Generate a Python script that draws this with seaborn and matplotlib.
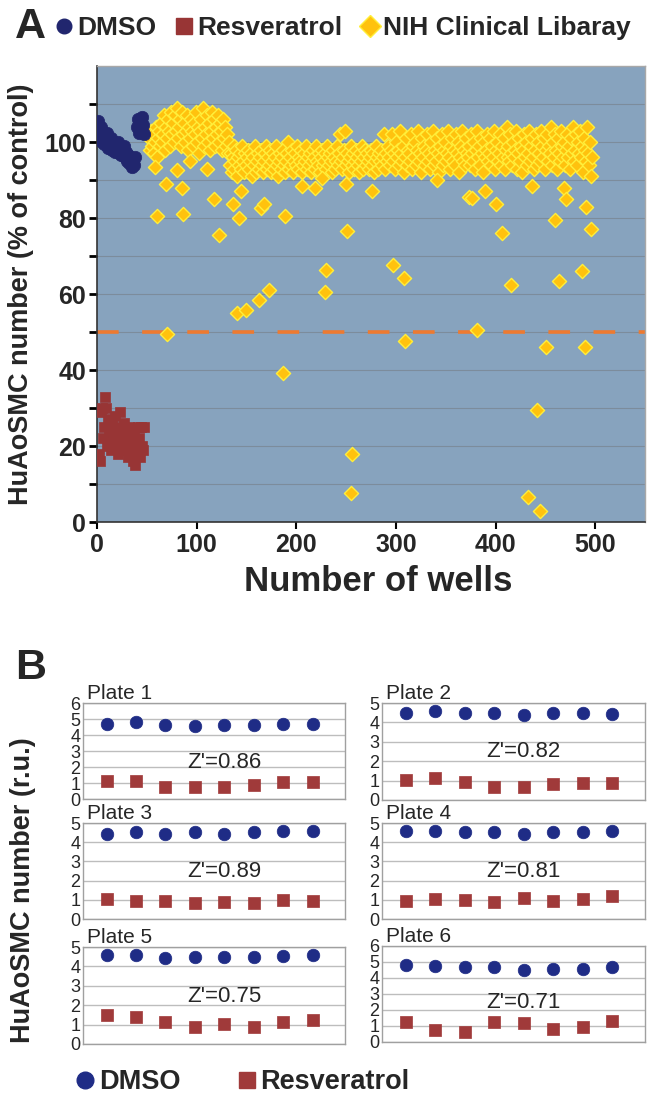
import matplotlib
matplotlib.use('Agg')
import matplotlib.pyplot as plt
import seaborn as sns
import numpy as np
import pandas as pd
from matplotlib.lines import Line2D

sns.set_style('white')
plt.rcParams['font.family'] = ['Liberation Sans', 'DejaVu Sans']

# ---------------- Panel A data ----------------
dmso_wells = list(range(1, 39)) + list(range(40, 48))
dmso_vals = [105.5, 103, 101.5, 104, 100, 102, 99.5, 101, 100, 102.5,
             98.5, 100.5, 99, 101, 98, 100, 99, 97.5, 99.5, 98,
             100, 97, 98.5, 96.5, 98, 97, 99, 96, 97.5, 95,
             96.5, 94.5, 96, 95, 93.5, 95.5, 94, 96,
             104, 106, 102.5, 105, 103, 106.5, 104.5, 102]

resv_wells = list(range(2, 48))
resv_vals = [18, 16, 29, 30, 22, 25, 33, 30, 20, 27,
             24, 21, 19, 26, 23, 20, 28, 24, 22, 18,
             25, 29, 21, 23, 19, 26, 22, 20, 24, 17,
             25, 21, 23, 19, 16, 24, 15, 20, 18, 25,
             22, 17, 25, 20, 19, 25]

# compound library, dense band (consecutive wells)
lib_start_1 = 52
lib_band_1 = [101, 98, 103, 99, 102, 97, 100, 104, 96, 101,
              103, 99, 105, 100, 102, 107, 98, 104, 101, 106,
              103, 99, 108, 102, 105, 100, 107, 103, 109, 101,
              104, 106, 99, 108, 102, 105, 100, 103, 107, 98,
              104, 101, 106, 103, 99, 105, 102, 108, 100, 104,
              97, 103, 106, 101, 109, 99, 104, 102, 107, 100,
              105, 98, 103, 108, 101, 106, 99, 104, 102, 107,
              100, 105, 103, 98, 106, 101, 104, 99, 102, 97, 100]

lib_start_2 = 133
lib_band_2 = [94, 97, 92, 96, 99, 93, 95, 98, 91, 96, 94, 97, 93, 99, 95, 92, 97, 94, 96, 98,
              93, 95, 97, 91, 96, 94, 99, 92, 95, 97, 93, 96, 98, 94, 92, 95, 97, 99, 93, 96,
              94, 98, 92, 95, 97, 93, 96, 99, 94, 91, 95, 97, 93, 96, 98, 94, 92, 95, 97, 100,
              93, 96, 94, 98, 92, 95, 97, 94, 99, 93, 96, 95, 98, 92, 94, 97, 95, 99, 93, 96,
              94, 97, 92, 95, 98, 96, 93, 99, 95, 94, 97, 92, 96, 98, 94, 95, 97, 93, 99, 96,
              94, 97, 95, 92, 98, 96, 93, 95, 99, 94, 97, 102, 95, 93, 96, 98, 103, 94, 97, 95,
              92, 96, 99, 94, 97, 93, 95, 98, 96, 94, 92, 97, 95, 99, 93, 96, 98, 94, 97, 95,
              93, 96, 98, 94, 97, 92, 95, 99, 96, 93, 97, 95, 98, 94, 96, 102, 93, 97, 95, 99,
              96, 94, 98, 102, 95, 97, 93, 100, 96, 98, 94, 103, 97, 95, 99, 92, 96, 101, 94, 98,
              97, 95, 102, 93, 99, 96, 100, 94, 98, 103, 95, 97, 92, 101, 96, 99, 94, 98, 102, 95,
              97, 93, 100, 96, 103, 94, 98, 95, 101, 97, 92, 99, 96, 102, 94, 98, 100, 95, 97, 103,
              96, 93, 99, 101, 95, 98, 94, 102, 97, 100, 92, 96, 99, 103, 95, 98, 94, 101, 97, 96,
              99, 94, 102, 97, 95, 100, 93, 98, 103, 96, 99, 94, 101, 97, 92, 100, 96, 98, 102, 95,
              97, 101, 94, 99, 96, 103, 93, 98, 100, 95, 97, 102, 94, 99, 96, 101, 93, 98, 104, 96,
              99, 95, 102, 97, 94, 100, 96, 98, 103, 93, 97, 101, 95, 99, 92, 98, 102, 96, 100, 94,
              97, 103, 95, 99, 101, 96, 93, 98, 102, 94, 100, 97, 95, 103, 99, 96, 101, 93, 98, 102,
              95, 99, 97, 104, 94, 100, 96, 102, 98, 93, 101, 97, 95, 103, 99, 96, 100, 94, 98, 102,
              96, 99, 93, 101, 97, 104, 95, 98, 102, 94, 100, 97, 103, 96, 99, 92, 101, 98, 95, 104,
              97, 94, 100, 91, 96]

# library hits / outliers
lib_out_wells = [58, 60, 69, 70, 80, 85, 86, 93, 110, 117, 122, 136, 141, 143, 145,
                 150, 163, 165, 168, 173, 187, 189, 206, 219, 226, 229, 230, 250, 251,
                 255, 256, 276, 297, 308, 309, 341, 373, 376, 381, 389, 400, 406, 416,
                 433, 437, 442, 445, 451, 460, 464, 469, 471, 487, 490, 491, 496]
lib_out_vals = [93.5, 80.5, 89, 49.6, 92.6, 88, 81, 95, 93, 85, 75.5, 83.6, 55, 80, 87,
                55.8, 58.4, 82.6, 83.6, 61, 39.2, 80.5, 88.4, 88, 90.5, 60.5, 66.3, 89, 76.6,
                7.6, 18, 87, 67.6, 64.2, 47.6, 90, 85.5, 85.3, 50.5, 87, 83.7, 76, 62.4,
                6.5, 88.4, 29.5, 3, 46, 79.5, 63.5, 88, 85, 66, 46, 83, 77]

# ---------------- Panel B data ----------------
plate_names = ['Plate 1', 'Plate 2', 'Plate 3', 'Plate 4', 'Plate 5', 'Plate 6']
plate_z = ["Z'=0.86", "Z'=0.82", "Z'=0.89", "Z'=0.81", "Z'=0.75", "Z'=0.71"]
plate_ymax = [6, 5, 5, 5, 5, 6]
plate_pos = [1, 2, 3, 4, 5, 6, 7, 8]
plate_dmso = [
    [4.66, 4.81, 4.64, 4.54, 4.64, 4.64, 4.70, 4.70],
    [4.48, 4.57, 4.48, 4.48, 4.36, 4.48, 4.48, 4.43],
    [4.43, 4.51, 4.43, 4.51, 4.43, 4.51, 4.57, 4.57],
    [4.60, 4.57, 4.51, 4.51, 4.44, 4.51, 4.51, 4.57],
    [4.61, 4.61, 4.44, 4.49, 4.49, 4.49, 4.56, 4.61],
    [4.84, 4.74, 4.67, 4.67, 4.53, 4.59, 4.59, 4.67],
]
plate_resv = [
    [1.11, 1.15, 0.73, 0.77, 0.73, 0.88, 1.09, 1.05],
    [1.03, 1.12, 0.95, 0.69, 0.69, 0.83, 0.90, 0.90],
    [1.06, 0.92, 0.92, 0.83, 0.89, 0.83, 1.01, 0.92],
    [0.92, 1.04, 1.01, 0.87, 1.09, 0.92, 1.06, 1.22],
    [1.48, 1.37, 1.14, 0.90, 1.02, 0.90, 1.11, 1.25],
    [1.26, 0.78, 0.63, 1.26, 1.16, 0.84, 0.91, 1.31],
]

c_dmso = '#21266E'
c_resv = '#983535'
c_lib = '#FFC20E'
c_lib_edge = '#FFEE3A'
c_dmso_b = '#1F2C86'
c_resv_b = '#A03A3A'

W, H = 649, 1101


def box(l, t, r, b):
    return [l / W, 1 - b / H, (r - l) / W, (b - t) / H]


fig = plt.figure(figsize=(6.49, 11.01), dpi=100)

# ---------------- Panel A ----------------
axA = fig.add_axes(box(97, 66, 645, 522))
axA.set_facecolor('#87A3BE')

lib_df = pd.DataFrame({
    'well': list(range(lib_start_1, lib_start_1 + len(lib_band_1)))
            + list(range(lib_start_2, lib_start_2 + len(lib_band_2))) + lib_out_wells,
    'value': lib_band_1 + lib_band_2 + lib_out_vals,
})
dmso_df = pd.DataFrame({'well': dmso_wells, 'value': dmso_vals})
resv_df = pd.DataFrame({'well': resv_wells, 'value': resv_vals})

sns.scatterplot(data=lib_df, x='well', y='value', marker='D', s=52, color=c_lib,
                edgecolor=c_lib_edge, linewidth=1.0, ax=axA, zorder=3)
sns.scatterplot(data=dmso_df, x='well', y='value', marker='o', s=80, color=c_dmso,
                edgecolor=c_dmso, linewidth=0.5, ax=axA, zorder=4)
sns.scatterplot(data=resv_df, x='well', y='value', marker='s', s=60, color=c_resv,
                edgecolor=c_resv, linewidth=0.5, ax=axA, zorder=4)

axA.axhline(50, color='#EE7A30', lw=2.6, dashes=(6, 6.5), zorder=2)

axA.set_xlim(0, 550)
axA.set_ylim(0, 120)
axA.set_yticks(np.arange(0, 111, 10))
axA.set_yticklabels([str(v) if v % 20 == 0 else '' for v in range(0, 111, 10)],
                    fontsize=18, fontweight='bold')
axA.set_xticks([0, 100, 200, 300, 400, 500])
axA.set_xticklabels(['0', '100', '200', '300', '400', '500'], fontsize=18, fontweight='bold')
axA.yaxis.grid(True, color='#7C8C9C', lw=0.8)
axA.xaxis.grid(False)
axA.set_axisbelow(True)
axA.tick_params(axis='y', direction='out', length=6, width=2, color='black', pad=2, left=True)
axA.tick_params(axis='x', direction='out', length=5, width=1.5, color='black', pad=3, bottom=True)
for side in ['top', 'right']:
    axA.spines[side].set_color('#A8A8A8')
    axA.spines[side].set_linewidth(1)
for side in ['left', 'bottom']:
    axA.spines[side].set_color('#333333')
    axA.spines[side].set_linewidth(1.2)

axA.set_xlabel('Number of wells', fontsize=25, fontweight='bold')
axA.xaxis.set_label_coords(0.513, -0.094)
axA.set_ylabel('HuAoSMC number (% of control)', fontsize=19.5, fontweight='bold')
axA.yaxis.set_label_coords(-0.115, 0.5)

fig.text(15 / W, 1 - 27 / H, 'A', fontsize=31, fontweight='bold', va='center', ha='left')

legA = [
    Line2D([], [], marker='o', ls='none', color=c_dmso, markersize=10.5, label='DMSO'),
    Line2D([], [], marker='s', ls='none', color=c_resv, markersize=12, label='Resveratrol'),
    Line2D([], [], marker='D', ls='none', color=c_lib, markeredgecolor=c_lib_edge,
           markersize=11, label='NIH Clinical Libaray'),
]
fig.legend(handles=legA, loc='center left', bbox_to_anchor=(55 / W, 1 - 28 / H), ncol=3,
           frameon=False, handlelength=0.7, handletextpad=0.15, columnspacing=0.7,
           borderaxespad=0, borderpad=0, prop={'weight': 'bold', 'size': 19})

# ---------------- Panel B ----------------
fig.text(15 / W, 1 - 668 / H, 'B', fontsize=31, fontweight='bold', va='center', ha='left')

plate_boxes = [(83, 703, 345, 799), (382, 703, 645, 800),
               (83, 823, 345, 919), (382, 823, 645, 919),
               (83, 947, 345, 1044), (382, 946, 645, 1042)]
z_y = [2.3, 2.5, 2.48, 2.48, 2.47, 2.46]

for i, name in enumerate(plate_names):
    ax = fig.add_axes(box(*plate_boxes[i]))
    ax.set_facecolor('white')
    pdf = pd.DataFrame({'pos': plate_pos, 'dmso': plate_dmso[i], 'resv': plate_resv[i]})
    sns.scatterplot(data=pdf, x='pos', y='dmso', marker='o', s=82, color=c_dmso_b,
                    edgecolor=c_dmso_b, linewidth=0.5, ax=ax, zorder=3)
    sns.scatterplot(data=pdf, x='pos', y='resv', marker='s', s=74, color=c_resv_b,
                    edgecolor=c_resv_b, linewidth=0.5, ax=ax, zorder=3)
    ax.set_xlim(0.2, 9.1)
    ax.set_ylim(0, plate_ymax[i])
    ax.set_yticks(range(0, plate_ymax[i] + 1))
    ax.set_yticklabels([str(v) for v in range(0, plate_ymax[i] + 1)], fontsize=13)
    ax.set_xticks([])
    ax.yaxis.grid(True, color='#BDBDBD', lw=1)
    ax.set_axisbelow(True)
    ax.tick_params(axis='y', length=0, pad=2)
    for side in ax.spines:
        ax.spines[side].set_color('#A0A0A0')
        ax.spines[side].set_linewidth(1)
    ax.set_xlabel('')
    ax.set_ylabel('')
    ax.set_title(name, loc='left', fontsize=15, pad=1, x=0.015)
    ax.text(5.0, z_y[i], plate_z[i], fontsize=16, ha='center', va='center')

fig.text(23 / W, 1 - 890 / H, 'HuAoSMC number (r.u.)', rotation=90, fontsize=19.5,
         fontweight='bold', ha='center', va='center')

legB = [
    Line2D([], [], marker='o', ls='none', color=c_dmso_b, markersize=12, label='DMSO'),
    Line2D([], [], marker='s', ls='none', color=c_resv_b, markersize=12, label='Resveratrol'),
]
fig.legend(handles=legB, loc='center left', bbox_to_anchor=(76 / W, 1 - 1082 / H), ncol=2,
           frameon=False, handlelength=0.7, handletextpad=0.15, columnspacing=2.1,
           borderaxespad=0, borderpad=0, prop={'weight': 'bold', 'size': 19.5})

fig.savefig('out.png', dpi=100)
